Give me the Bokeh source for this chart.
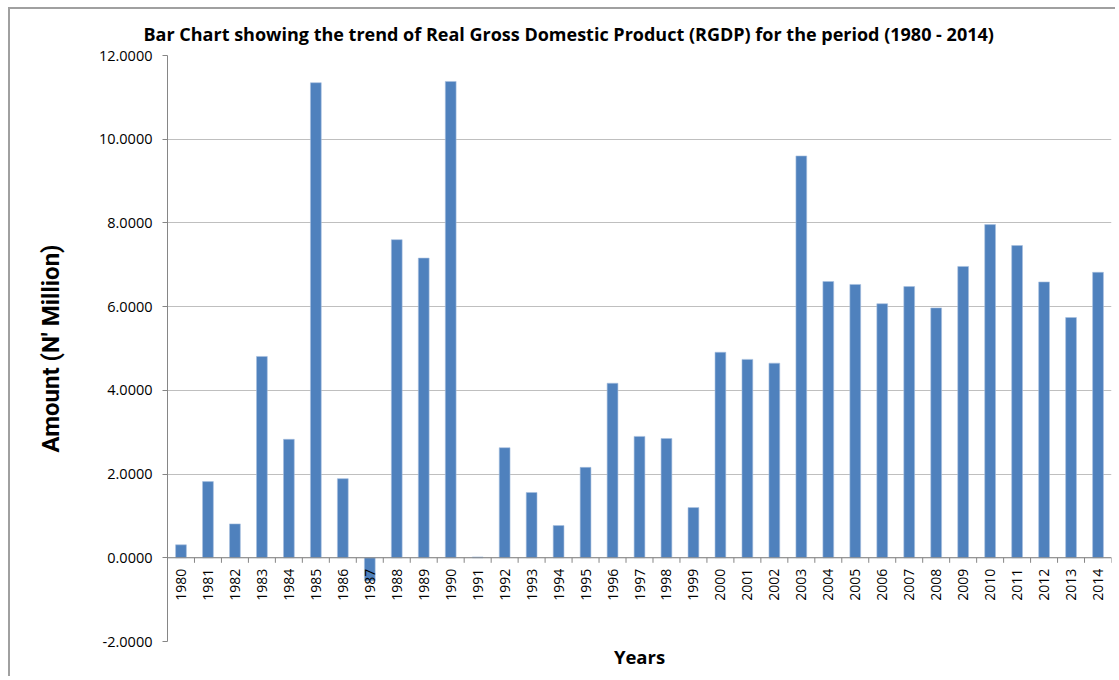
from bokeh.plotting import figure
from bokeh.models import (ColumnDataSource, FixedTicker, NumeralTickFormatter,
                          Range1d, Span, Title)
from bokeh.core.properties import value
from bokeh.embed import file_html
from bokeh.resources import INLINE

# Real Gross Domestic Product growth by year
years = [str(y) for y in range(1980, 2015)]
rgdp = [0.31, 1.82, 0.81, 4.81, 2.83, 11.35, 1.89, -0.55, 7.60, 7.16,
        11.38, 0.02, 2.63, 1.56, 0.77, 2.16, 4.17, 2.90, 2.85, 1.20,
        4.91, 4.74, 4.65, 9.60, 6.60, 6.53, 6.07, 6.48, 5.97, 6.96,
        7.96, 7.46, 6.59, 5.74, 6.82]
y_ticks = [-2, 0, 2, 4, 6, 8, 10, 12]

BAR_BLUE = "#4f81bd"
AXIS_GREY = "#868686"
GRID_GREY = "#bfbfbf"
FRAME_GREY = "#a0a0a0"

xpos = list(range(1, len(years) + 1))
src = ColumnDataSource(dict(x=xpos, year=years, v=rgdp, zero=[0] * len(years)))

p = figure(width=1107, height=669, output_backend="svg", toolbar_location=None,
           x_range=Range1d(0.5, len(years) + 0.5), y_range=Range1d(-2, 12),
           x_axis_location=None,
           min_border_left=157, min_border_right=6, min_border_top=46,
           min_border_bottom=37)
p.margin = (7, 0, 0, 8)
p.styles = {"border-left": f"2px solid {FRAME_GREY}",
            "border-top": f"2px solid {FRAME_GREY}"}
p.outline_line_color = None
p.background_fill_color = "white"
p.border_fill_color = "white"

p.title.text = ("Bar Chart showing the trend of Real Gross Domestic Product "
                "(RGDP) for the period (1980 - 2014)")
p.title.text_font = "Open Sans"
p.title.text_font_size = "18px"
p.title.text_font_style = "bold"
p.title.align = "left"
p.title.offset = -24
p.title.vertical_align = "top"
p.title.text_line_height = 0.75
p.title.standoff = 16
p.title.text_color = "black"

# y axis
yax = p.yaxis[0]
yax.ticker = FixedTicker(ticks=y_ticks)
yax.formatter = NumeralTickFormatter(format="0.0000")
yax.major_label_text_font = "Open Sans"
yax.major_label_text_font_size = "14.5px"
yax.major_label_text_color = "black"
yax.major_label_standoff = 10
yax.major_tick_in = 0
yax.major_tick_out = 5
yax.minor_tick_line_color = None
yax.axis_line_color = AXIS_GREY
yax.major_tick_line_color = AXIS_GREY
yax.axis_label = "Amount (N' Million)"
yax.axis_label_text_font = "Roboto"
yax.axis_label_text_font_size = "24px"
yax.axis_label_text_font_style = "bold"
yax.axis_label_text_color = "black"
yax.axis_label_standoff = 31

p.ygrid.ticker = FixedTicker(ticks=y_ticks)
p.ygrid.grid_line_color = GRID_GREY
p.xgrid.grid_line_color = None

# bars
p.vbar(x="x", top="v", bottom=0, width=0.4, source=src,
       fill_color=BAR_BLUE, line_color="#a7bfdf", line_width=0.6)

# category axis drawn along the zero line
p.add_layout(Span(location=0, dimension="width", line_color=AXIS_GREY,
                  line_width=1))
bounds = [i + 0.5 for i in range(0, len(years) + 1)]
p.segment(x0=bounds, y0=[0] * len(bounds), x1=bounds,
          y1=[-0.12] * len(bounds), line_color=AXIS_GREY, line_width=1)
p.text(x="x", y="zero", text="year", source=src, angle=1.5708,
       text_align="right", text_baseline="middle", y_offset=11,
       text_font=value("Open Sans"), text_font_size="14px", text_color="black")

p.add_layout(Title(text="Years", align="center", text_font="Open Sans",
                   text_font_size="18.5px", text_font_style="bold",
                   text_color="black", standoff=0), "below")

open("out.html", "w").write(file_html(p, INLINE))
